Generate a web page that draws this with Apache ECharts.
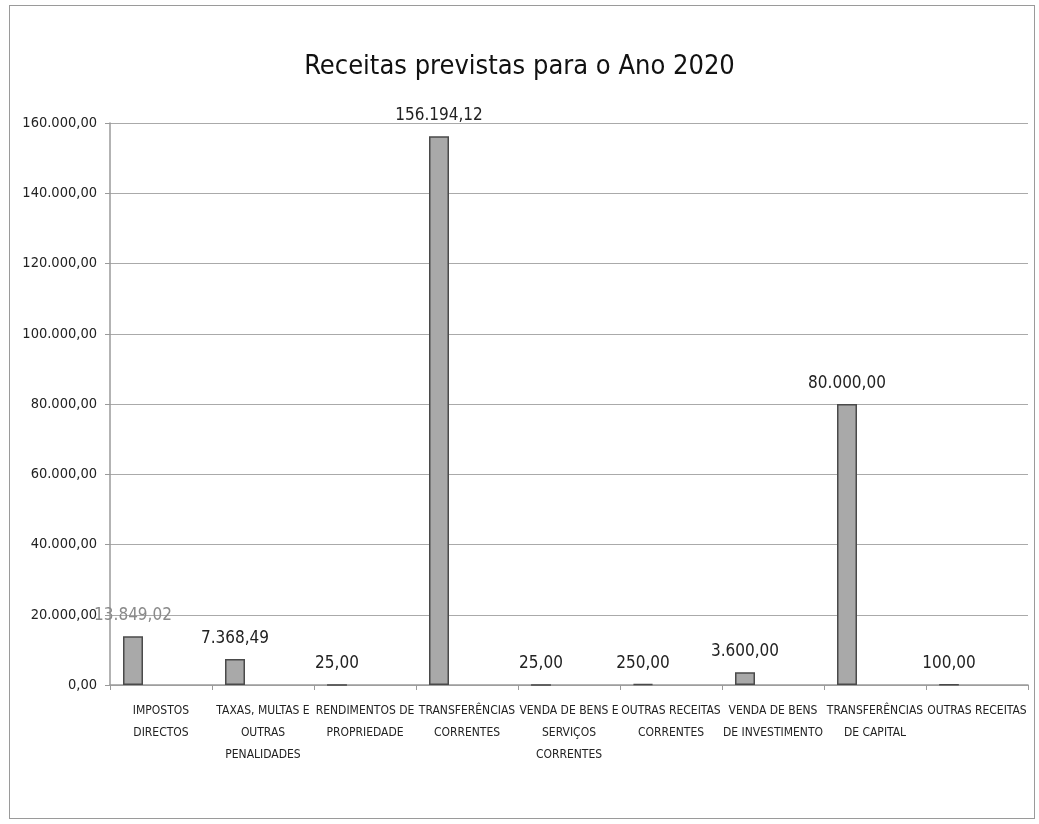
<!DOCTYPE html>
<html>
<head>
<meta charset="utf-8">
<script src="https://cdn.jsdelivr.net/npm/echarts@6/dist/echarts.min.js"></script>
<style>
html,body{margin:0;padding:0;background:#fff;}
#frame{position:absolute;left:9px;top:5px;width:1026px;height:814px;border:1.5px solid #9a9a9a;box-sizing:border-box;}
#chart{position:absolute;left:0;top:0;width:1039px;height:824px;}
</style>
</head>
<body>
<div id="frame"></div>
<div id="chart"></div>
<script>
const title = 'Receitas previstas para o Ano 2020';
const categories = [
  'IMPOSTOS\nDIRECTOS',
  'TAXAS, MULTAS E\nOUTRAS\nPENALIDADES',
  'RENDIMENTOS DE\nPROPRIEDADE',
  'TRANSFERÊNCIAS\nCORRENTES',
  'VENDA DE BENS E\nSERVIÇOS\nCORRENTES',
  'OUTRAS RECEITAS\nCORRENTES',
  'VENDA DE BENS\nDE INVESTIMENTO',
  'TRANSFERÊNCIAS\nDE CAPITAL',
  'OUTRAS RECEITAS'
];
const values = [13849.02, 7368.49, 25, 156194.12, 25, 250, 3600, 80000, 100];
const emptySeries = ['-', '-', '-', '-', '-', '-', '-', '-', '-'];
const yMin = 0, yMax = 160000, yStep = 20000;

function fmt(v) {
  const parts = Number(v).toFixed(2).split('.');
  parts[0] = parts[0].replace(/\B(?=(\d{3})+(?!\d))/g, '.');
  return parts[0] + ',' + parts[1];
}

const FONT = '"DejaVu Sans Condensed", "Liberation Sans Narrow", sans-serif';
const chart = echarts.init(document.getElementById('chart'));
chart.setOption({
  backgroundColor: 'transparent',
  animation: false,
  title: {
    text: title, left: 'center', top: 48,
    textStyle: { fontFamily: FONT, fontSize: 27, fontWeight: 'normal', color: '#111' }
  },
  grid: { left: 110, right: 11, top: 123, bottom: 139, containLabel: false },
  xAxis: {
    type: 'category', data: categories,
    axisLine: { show: true, lineStyle: { color: '#9a9a9a', width: 1.5 } },
    axisTick: { show: true, length: 5, lineStyle: { color: '#9a9a9a' } },
    axisLabel: { interval: 0, fontFamily: FONT, fontSize: 12, color: '#222', lineHeight: 22, margin: 15 }
  },
  yAxis: {
    type: 'value', min: yMin, max: yMax, interval: yStep,
    axisLine: { show: true, lineStyle: { color: '#9a9a9a', width: 1.5 } },
    axisTick: { show: true, length: 5, lineStyle: { color: '#9a9a9a' } },
    splitLine: { show: true, lineStyle: { color: '#aaaaaa', width: 1.2 } },
    axisLabel: { formatter: fmt, fontFamily: FONT, fontSize: 14.5, color: '#222', margin: 13 }
  },
  series: [
    {
      type: 'bar',
      data: values.map((v, i) => i === 0 ? { value: v, label: { color: '#8a8a8a' } } : v),
      barWidth: 20, barGap: '180%',
      itemStyle: { color: '#a9a9a9', borderColor: '#4a4a4a', borderWidth: 1.5 },
      label: {
        show: true, position: 'top', distance: 12,
        formatter: p => fmt(p.value),
        fontFamily: FONT, fontSize: 17, color: '#222'
      }
    },
    { type: 'bar', data: emptySeries, barWidth: 20 }
  ]
});
</script>
</body>
</html>
